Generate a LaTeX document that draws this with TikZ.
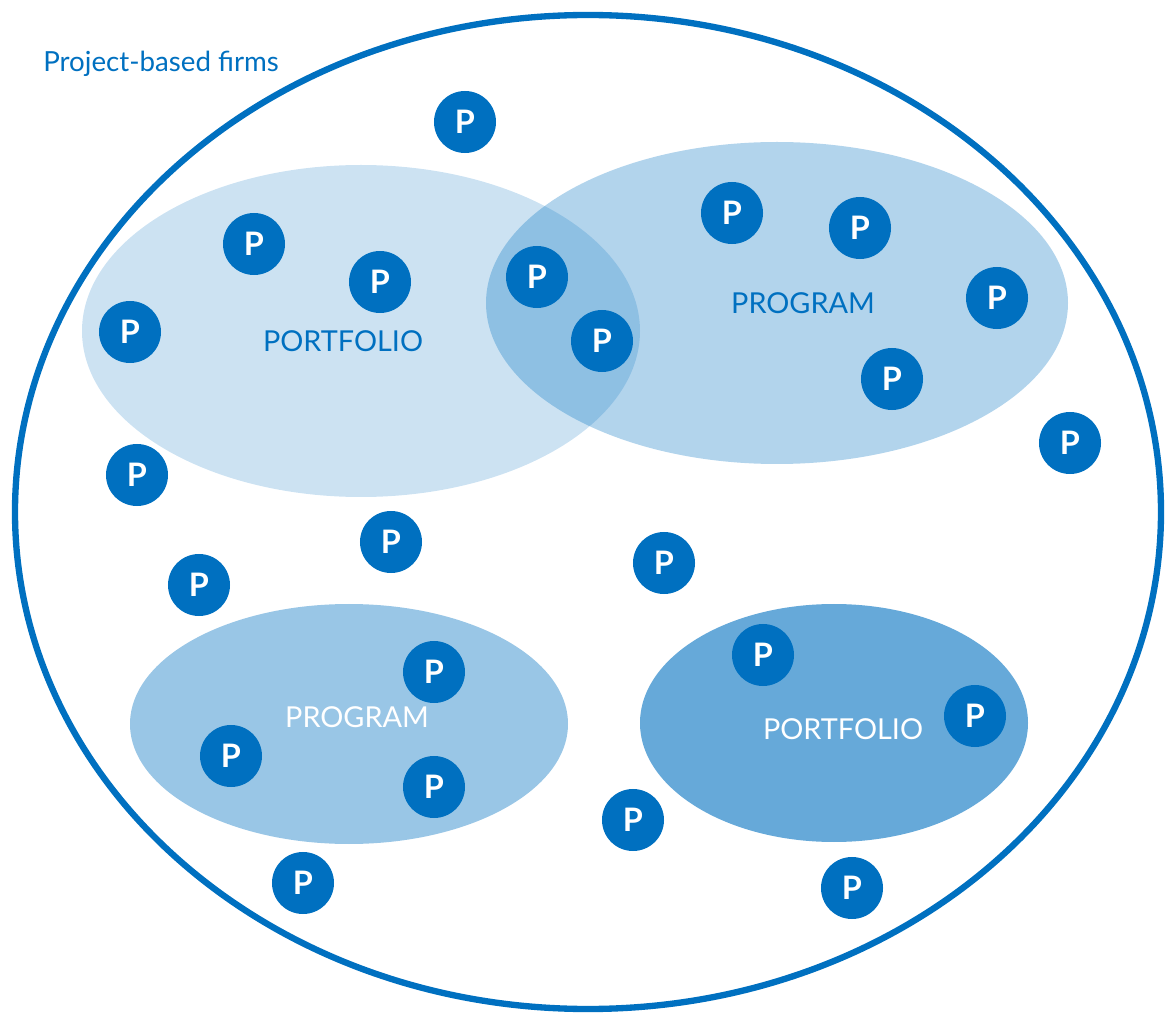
\documentclass[tikz,border=0pt]{standalone}
\usepackage{fontspec}
\setmainfont{Lato}
\usepackage{tikz}

\definecolor{pblue}{HTML}{0070C0}
\tikzset{
  proj/.style={shape=circle,minimum size=1.55cm,inner sep=0pt,fill=pblue,text=white,font=\fontsize{23}{23}\selectfont\bfseries},
  grouplabel/.style={anchor=base,inner sep=0pt,font=\fontsize{20.5}{20.5}\selectfont},
}

\begin{document}
\begin{tikzpicture}[x=0.025cm,y=-0.025cm]
\useasboundingbox (0,0) rectangle (1167,1017);
% groups of projects
\fill [pblue,fill opacity=0.2] (361,331) ellipse [x radius=279,y radius=166];
\fill [pblue,fill opacity=0.3] (777,303) ellipse [x radius=291,y radius=161];
\fill [pblue,fill opacity=0.4] (349,724) ellipse [x radius=219,y radius=120];
\fill [pblue,fill opacity=0.6] (834,723) ellipse [x radius=194,y radius=119];
% the firm
\draw [pblue,line width=4.5pt] (588,512) ellipse [x radius=573,y radius=497];
\path (43,72) node (firms) [anchor=base west,inner sep=0pt,text=pblue,font=\fontsize{19.7}{19.7}\selectfont] {Project-based firms};

\path (343,352) node (portfolioa) [grouplabel,text=pblue] {PORTFOLIO};
\path (803,314) node (programa) [grouplabel,text=pblue] {PROGRAM};
\path (357,727) node (programb) [grouplabel,text=white] {PROGRAM};
\path (843,739) node (portfoliob) [grouplabel,text=white] {PORTFOLIO};

% projects
\path (465,122) node (p1) [proj] {P};
\path (254,244) node (p2) [proj] {P};
\path (380,282) node (p3) [proj] {P};
\path (130,332) node (p4) [proj] {P};
\path (537,277) node (p5) [proj] {P};
\path (602,341) node (p6) [proj] {P};
\path (732,213) node (p7) [proj] {P};
\path (860,228) node (p8) [proj] {P};
\path (997,298) node (p9) [proj] {P};
\path (892,379) node (p10) [proj] {P};
\path (1070,443) node (p11) [proj] {P};
\path (137,475) node (p12) [proj] {P};
\path (391,542) node (p13) [proj] {P};
\path (664,563) node (p14) [proj] {P};
\path (199,585) node (p15) [proj] {P};
\path (434,672) node (p16) [proj] {P};
\path (763,655) node (p17) [proj] {P};
\path (975,716) node (p18) [proj] {P};
\path (231,756) node (p19) [proj] {P};
\path (434,787) node (p20) [proj] {P};
\path (633,820) node (p21) [proj] {P};
\path (303,883) node (p22) [proj] {P};
\path (852,888) node (p23) [proj] {P};
\end{tikzpicture}
\end{document}
